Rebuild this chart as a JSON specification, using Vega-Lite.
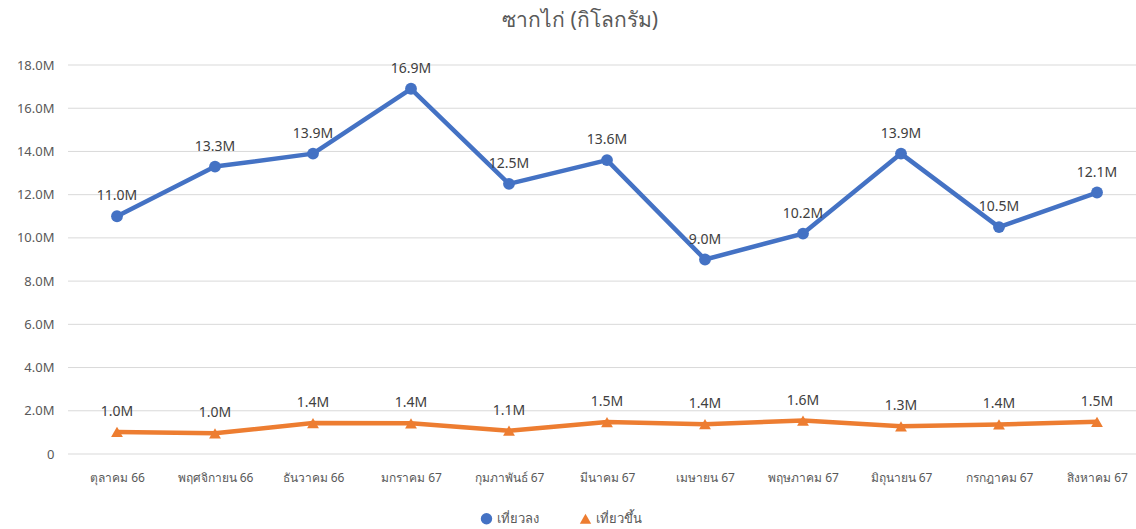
{
  "$schema": "https://vega.github.io/schema/vega-lite/v6.json",
  "width": 1068,
  "height": 389,
  "autosize": {"type": "none"},
  "padding": {"left": 68, "top": 65, "right": 0, "bottom": 75},
  "background": "white",
  "title": {
    "text": "ซากไก่ (กิโลกรัม)",
    "fontSize": 21,
    "font": "Noto Sans",
    "fontWeight": "normal",
    "color": "#595959",
    "anchor": "middle",
    "dx": -22,
    "offset": 28
  },
  "config": {
    "view": {"stroke": null},
    "font": "Noto Sans"
  },
  "datasets": {
    "grid": [
      {"value": 0}, {"value": 2000000}, {"value": 4000000}, {"value": 6000000}, {"value": 8000000},
      {"value": 10000000}, {"value": 12000000}, {"value": 14000000}, {"value": 16000000}, {"value": 18000000}
    ],
    "main": [
      {"month": "ตุลาคม 66", "series": "เที่ยวลง", "value": 11000000},
      {"month": "พฤศจิกายน 66", "series": "เที่ยวลง", "value": 13300000},
      {"month": "ธันวาคม 66", "series": "เที่ยวลง", "value": 13900000},
      {"month": "มกราคม 67", "series": "เที่ยวลง", "value": 16900000},
      {"month": "กุมภาพันธ์ 67", "series": "เที่ยวลง", "value": 12500000},
      {"month": "มีนาคม 67", "series": "เที่ยวลง", "value": 13600000},
      {"month": "เมษายน 67", "series": "เที่ยวลง", "value": 9000000},
      {"month": "พฤษภาคม 67", "series": "เที่ยวลง", "value": 10200000},
      {"month": "มิถุนายน 67", "series": "เที่ยวลง", "value": 13900000},
      {"month": "กรกฎาคม 67", "series": "เที่ยวลง", "value": 10500000},
      {"month": "สิงหาคม 67", "series": "เที่ยวลง", "value": 12100000},
      {"month": "ตุลาคม 66", "series": "เที่ยวขึ้น", "value": 1020000},
      {"month": "พฤศจิกายน 66", "series": "เที่ยวขึ้น", "value": 960000},
      {"month": "ธันวาคม 66", "series": "เที่ยวขึ้น", "value": 1430000},
      {"month": "มกราคม 67", "series": "เที่ยวขึ้น", "value": 1420000},
      {"month": "กุมภาพันธ์ 67", "series": "เที่ยวขึ้น", "value": 1080000},
      {"month": "มีนาคม 67", "series": "เที่ยวขึ้น", "value": 1480000},
      {"month": "เมษายน 67", "series": "เที่ยวขึ้น", "value": 1380000},
      {"month": "พฤษภาคม 67", "series": "เที่ยวขึ้น", "value": 1550000},
      {"month": "มิถุนายน 67", "series": "เที่ยวขึ้น", "value": 1280000},
      {"month": "กรกฎาคม 67", "series": "เที่ยวขึ้น", "value": 1370000},
      {"month": "สิงหาคม 67", "series": "เที่ยวขึ้น", "value": 1490000}
    ]
  },
  "layer": [
    {
      "data": {"name": "grid"},
      "mark": {"type": "rule", "color": "#d9d9d9", "strokeWidth": 1},
      "encoding": {
        "y": {
          "field": "value",
          "type": "quantitative",
          "scale": {"domain": [0, 18000000], "nice": false},
          "axis": {
            "title": null,
            "values": [0, 2000000, 4000000, 6000000, 8000000, 10000000, 12000000, 14000000, 16000000, 18000000],
            "labelExpr": "datum.value == 0 ? '0' : format(datum.value / 1000000, '.1f') + 'M'",
            "labelFontSize": 13,
            "labelColor": "#595959",
            "labelPadding": 14,
            "ticks": false,
            "domain": false,
            "grid": false
          }
        }
      }
    },
    {
      "data": {"name": "main"},
      "encoding": {
        "x": {
          "field": "month",
          "type": "ordinal",
          "sort": null,
          "scale": {"type": "point", "range": [49, 1029], "padding": 0},
          "axis": {
            "title": null,
            "labelAngle": 0,
            "labelFontSize": 12,
            "labelColor": "#595959",
            "labelPadding": 18,
            "ticks": false,
            "domain": false,
            "grid": false
          }
        },
        "y": {"field": "value", "type": "quantitative"},
        "color": {
          "field": "series",
          "type": "nominal",
          "sort": ["เที่ยวลง", "เที่ยวขึ้น"],
          "scale": {"domain": ["เที่ยวลง", "เที่ยวขึ้น"], "range": ["#4472C4", "#ED7D31"]},
          "legend": {
            "title": null,
            "orient": "none",
            "direction": "horizontal",
            "legendX": 412,
            "legendY": 447,
            "labelFontSize": 13,
            "labelColor": "#595959",
            "symbolSize": 130,
            "symbolStrokeWidth": 0,
            "columnPadding": 40
          }
        }
      },
      "layer": [
        {
          "mark": {"type": "line", "strokeWidth": 4.5, "strokeCap": "round", "strokeJoin": "round"}
        },
        {
          "mark": {"type": "point", "filled": true, "size": 140, "opacity": 1},
          "encoding": {
            "shape": {
              "field": "series",
              "type": "nominal",
              "scale": {"domain": ["เที่ยวลง", "เที่ยวขึ้น"], "range": ["circle", "triangle-up"]},
              "legend": {
                "title": null,
                "orient": "none",
                "direction": "horizontal",
                "legendX": 412,
                "legendY": 447,
                "labelFontSize": 13,
                "labelColor": "#595959",
                "symbolSize": 130,
                "symbolStrokeWidth": 0,
                "columnPadding": 40
              }
            }
          }
        },
        {
          "mark": {
            "type": "text",
            "dy": -20,
            "fontSize": 14,
            "color": "#404040",
            "text": {"expr": "format(datum.value / 1000000, '.1f') + 'M'"}
          },
          "encoding": {
            "color": {"value": "#404040"}
          }
        }
      ]
    }
  ]
}
